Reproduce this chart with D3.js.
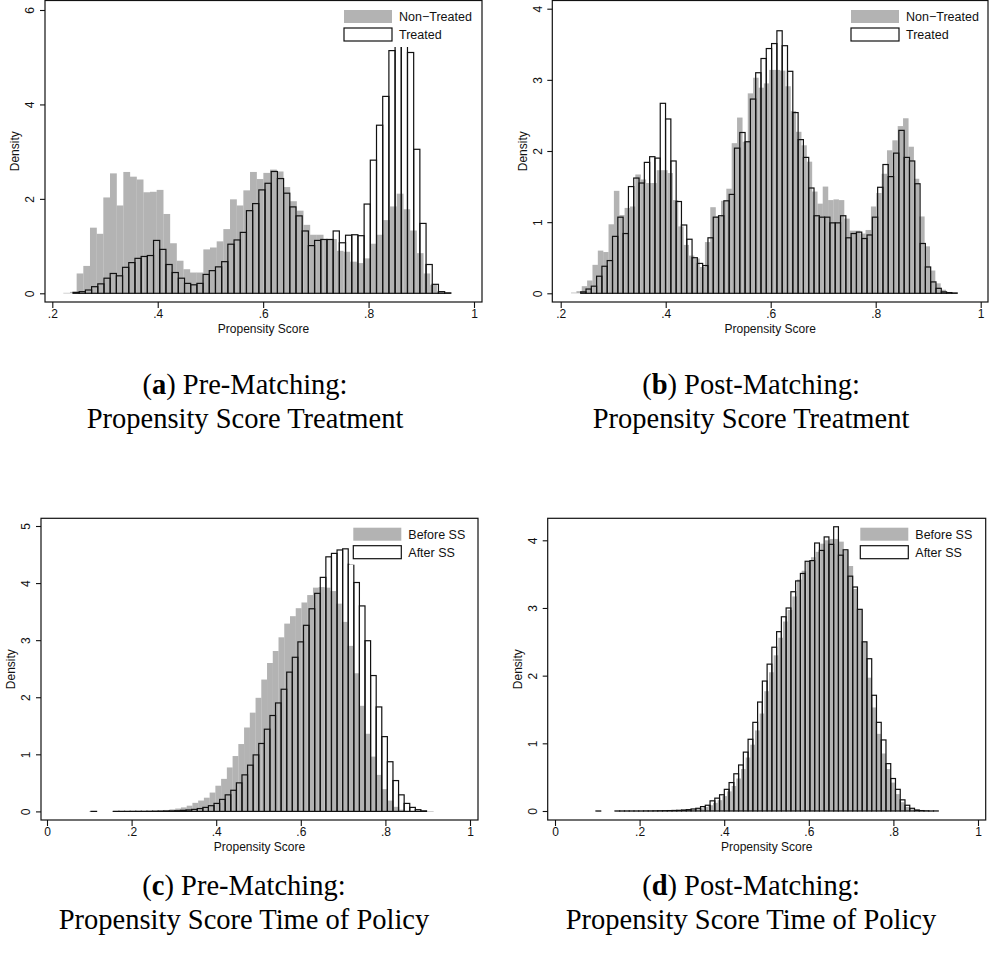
<!DOCTYPE html>
<html>
<head>
<meta charset="utf-8">
<script src="https://cdn.jsdelivr.net/npm/d3@7"></script>
<style>
  html, body { margin: 0; padding: 0; background: #fff; }
  svg { display: block; }
</style>
</head>
<body>
<svg id="fig" width="989" height="958"></svg>
<script>
// ---------------- data ----------------
const xTicksTop = [0.2, 0.4, 0.6, 0.8, 1];
const xTickLabelsTop = [".2", ".4", ".6", ".8", "1"];
const xTicksBottom = [0, 0.2, 0.4, 0.6, 0.8, 1];
const xTickLabelsBottom = ["0", ".2", ".4", ".6", ".8", "1"];
const yTicksA = [0, 2, 4, 6];
const yTicksB = [0, 1, 2, 3, 4];
const yTicksC = [0, 1, 2, 3, 4, 5];
const yTicksD = [0, 1, 2, 3, 4];
const legendTreatment = ["Non\u2212Treated", "Treated"];
const legendPolicy = ["Before SS", "After SS"];
const xTitle = "Propensity Score";
const yTitle = "Density";

// histogram bins: [first bin edge, bin width] in propensity-score units
const binsNonTreatedPre = [0.2209, 0.01265];
const binsTreatedPre = [0.2393, 0.01175];
const binsNonTreatedPost = [0.2197, 0.0102];
const binsTreatedPost = [0.2381, 0.0101];
const binsBeforePre = [0.0995, 0.01357];
const binsAfterPre = [0.104, 0.01322];
const binsBeforePost = [0.0978, 0.01103];
const binsAfterPost = [0.0968, 0.01124];

// densities per bin (empty bins are 0 and leave no mark)
const nonTreatedPre = [0.01, 0.03, 0.42, 0.58, 1.39, 1.26, 2.03, 2.54, 1.86, 2.57,
  2.47, 2.41, 2.14, 2.15, 2.19, 1.68, 1.06, 0.69, 0.51, 0.44,
  0.44, 0.93, 0.97, 1.1, 1.36, 1.99, 1.86, 2.18, 2.57, 2.42,
  2.55, 2.62, 2.58, 2.25, 1.95, 1.75, 1.45, 1.24, 1.24, 1.15,
  1.15, 0.9, 0.88, 0.67, 0.64, 0.74, 1.05, 1.24, 1.55, 1.84,
  2.11, 1.78, 1.33, 0.85, 0.42, 0.18, 0.035, 0.01];
const treatedPre = [0.02, 0.035, 0.07, 0.14, 0.2, 0.32, 0.42, 0.37, 0.55, 0.65,
  0.74, 0.78, 0.8, 1.12, 0.93, 0.61, 0.44, 0.32, 0.21, 0.18,
  0.21, 0.4, 0.48, 0.56, 0.67, 1.04, 1.13, 1.29, 1.75, 1.9,
  2.19, 2.33, 2.58, 2.43, 2.12, 1.83, 1.64, 1.32, 1.01, 1.12,
  1.14, 1.14, 1.32, 1.07, 1.23, 1.24, 1.22, 1.89, 2.82, 3.56,
  4.17, 5.14, 5.75, 5.6, 5.1, 3.05, 1.48, 0.61, 0.19, 0.035,
  0.01];
const nonTreatedPost = [0.01, 0.03, 0.1, 0.18, 0.4, 0.6, 0.58, 0.97, 1.44, 1.1,
  1.2, 1.22, 1.67, 1.6, 1.55, 1.55, 1.73, 1.73, 1.69, 1.31,
  0.94, 0.68, 0.53, 0.49, 0.37, 0.72, 1.21, 1.08, 1.3, 1.47,
  2.11, 2.47, 2.13, 2.81, 3.03, 2.89, 2.95, 3.14, 3.14, 3.13,
  2.91, 2.56, 2.27, 2.08, 1.85, 1.43, 1.26, 1.5, 1.31, 1.32,
  1.31, 1.05, 0.88, 0.88, 0.84, 0.89, 1.22, 1.41, 1.68, 2.01,
  2.15, 2.35, 2.46, 2.06, 1.61, 1.08, 0.66, 0.32, 0.14, 0.05,
  0.015, 0.005];
const treatedPost = [0.02, 0.06, 0.1, 0.24, 0.38, 0.46, 0.8, 1.07, 0.84, 1.5,
  1.62, 1.55, 1.84, 1.92, 1.9, 2.67, 2.45, 1.86, 1.29, 0.96,
  0.76, 0.5, 0.42, 0.39, 0.78, 1.07, 1.09, 1.3, 1.39, 2.04,
  2.26, 2.13, 2.73, 3.1, 3.3, 3.44, 3.51, 3.69, 3.48, 3.12,
  2.54, 2.16, 1.91, 1.48, 1.09, 1.07, 1.07, 0.99, 0.99, 1.09,
  0.78, 0.84, 0.86, 0.77, 0.82, 1.07, 1.49, 1.81, 1.64, 1.97,
  2.29, 1.91, 1.86, 1.54, 0.7, 0.37, 0.16, 0.07, 0.02, 0.01,
  0.005];
const beforePre = [0.0005, 0, 0, 0, 0.001, 0.002, 0.002, 0.003, 0.004, 0.006,
  0.008, 0.012, 0.018, 0.025, 0.035, 0.05, 0.07, 0.1, 0.15, 0.19,
  0.24, 0.33, 0.45, 0.57, 0.77, 0.97, 1.18, 1.47, 1.73, 1.99,
  2.31, 2.6, 2.81, 3.05, 3.29, 3.42, 3.56, 3.66, 3.79, 3.92,
  3.93, 3.92, 3.86, 3.64, 3.32, 2.9, 2.42, 1.85, 1.36, 0.96,
  0.64, 0.39, 0.19, 0.08, 0.03, 0.01, 0.005, 0.002, 0.001, 0.001];
const afterPre = [0.0005, 0, 0, 0, 0.001, 0.001, 0.001, 0.0015, 0.002, 0.002,
  0.003, 0.004, 0.005, 0.007, 0.009, 0.012, 0.018, 0.025, 0.035, 0.05,
  0.07, 0.1, 0.14, 0.21, 0.29, 0.37, 0.5, 0.64, 0.81, 0.99,
  1.19, 1.44, 1.68, 1.9, 2.14, 2.44, 2.7, 2.97, 3.26, 3.55,
  3.82, 4.1, 4.46, 4.52, 4.58, 4.6, 4.33, 4.01, 3.6, 2.99,
  2.38, 1.83, 1.31, 0.87, 0.54, 0.29, 0.14, 0.07, 0.03, 0.01];
const beforePost = [0.0005, 0, 0, 0, 0.001, 0.001, 0.001, 0.001, 0.001, 0.001,
  0.001, 0.001, 0.002, 0.002, 0.003, 0.004, 0.005, 0.006, 0.009, 0.013,
  0.02, 0.028, 0.04, 0.06, 0.085, 0.12, 0.16, 0.22, 0.29, 0.37,
  0.48, 0.62, 0.79, 0.98, 1.19, 1.44, 1.77, 2.05, 2.3, 2.56,
  2.8, 2.97, 3.17, 3.42, 3.55, 3.68, 3.75, 3.83, 3.95, 4.0,
  4.02, 4.02, 3.98, 3.85, 3.62, 3.28, 2.97, 2.5, 1.97, 1.53,
  1.14, 0.85, 0.62, 0.42, 0.25, 0.13, 0.06, 0.025, 0.01, 0.004,
  0.002, 0.001];
const afterPost = [0.0005, 0, 0, 0, 0.0008, 0.0008, 0.001, 0.001, 0.001, 0.001,
  0.002, 0.002, 0.003, 0.004, 0.005, 0.006, 0.008, 0.01, 0.015, 0.02,
  0.03, 0.04, 0.065, 0.085, 0.15, 0.19, 0.24, 0.32, 0.42, 0.55,
  0.68, 0.87, 1.06, 1.31, 1.61, 1.92, 2.17, 2.42, 2.65, 2.87,
  3.0, 3.24, 3.4, 3.51, 3.69, 3.7, 3.96, 3.85, 4.05, 3.94,
  4.2, 3.78, 3.86, 3.47, 3.31, 2.98, 2.5, 2.25, 1.71, 1.31,
  1.05, 0.7, 0.48, 0.32, 0.165, 0.085, 0.04, 0.015, 0.006, 0.003,
  0.001, 0.001];

// sub-figure captions: [letter, first line, second line]
const captionA = ["a", " Pre-Matching:", "Propensity Score Treatment"];
const captionB = ["b", " Post-Matching:", "Propensity Score Treatment"];
const captionC = ["c", " Pre-Matching:", "Propensity Score Time of Policy"];
const captionD = ["d", " Post-Matching:", "Propensity Score Time of Policy"];

// ---------------- layout ----------------
const GRAY = "#b3b3b3";
const INK = "#111";
const SANS = "'Liberation Sans', Arial, Helvetica, sans-serif";
const SERIF = "'Liberation Serif', 'Times New Roman', Times, serif";

const panels = [
  { frame: { l: 45, r: 482, t: 0.5, b: 302 }, xDomain: [0.2, 1], xRange: [52.3, 474],
    yDomain: [0, 6], yRange: [293.3, 10], xTicks: xTicksTop, xLabels: xTickLabelsTop, yTicks: yTicksA,
    legend: legendTreatment, legendX: 344, legendY: 10,
    filled: nonTreatedPre, filledBins: binsNonTreatedPre, outline: treatedPre, outlineBins: binsTreatedPre,
    caption: captionA, capX: 245, capY: 394 },
  { frame: { l: 552.3, r: 988, t: 0.5, b: 302 }, xDomain: [0.2, 1], xRange: [560.7, 980.7],
    yDomain: [0, 4], yRange: [293.3, 8.7], xTicks: xTicksTop, xLabels: xTickLabelsTop, yTicks: yTicksB,
    legend: legendTreatment, legendX: 851, legendY: 10,
    filled: nonTreatedPost, filledBins: binsNonTreatedPost, outline: treatedPost, outlineBins: binsTreatedPost,
    caption: captionB, capX: 751, capY: 394 },
  { frame: { l: 41, r: 478, t: 518.3, b: 820 }, xDomain: [0, 1], xRange: [47, 470],
    yDomain: [0, 5], yRange: [811.4, 526], xTicks: xTicksBottom, xLabels: xTickLabelsBottom, yTicks: yTicksC,
    legend: legendPolicy, legendX: 353.3, legendY: 527.7,
    filled: beforePre, filledBins: binsBeforePre, outline: afterPre, outlineBins: binsAfterPre,
    caption: captionC, capX: 244, capY: 895 },
  { frame: { l: 547.7, r: 985.7, t: 518.3, b: 820 }, xDomain: [0, 1], xRange: [555, 978],
    yDomain: [0, 4], yRange: [811, 540.3], xTicks: xTicksBottom, xLabels: xTickLabelsBottom, yTicks: yTicksD,
    legend: legendPolicy, legendX: 860.3, legendY: 527.7,
    filled: beforePost, filledBins: binsBeforePost, outline: afterPost, outlineBins: binsAfterPost,
    caption: captionD, capX: 751, capY: 895 }
];

const svg = d3.select("#fig");

function toBins(values, bins) {
  const [start, width] = bins;
  return values
    .map((v, i) => ({ x0: start + i * width, x1: start + (i + 1) * width, v }))
    .filter(d => d.v > 0);
}

panels.forEach((p, idx) => {
  const f = p.frame;
  const x = d3.scaleLinear().domain(p.xDomain).range(p.xRange);
  const y = d3.scaleLinear().domain(p.yDomain).range(p.yRange);
  const g = svg.append("g");

  const clipId = "clip" + idx;
  g.append("clipPath").attr("id", clipId)
    .append("rect").attr("x", f.l).attr("y", f.t).attr("width", f.r - f.l).attr("height", f.b - f.t);
  const plot = g.append("g").attr("clip-path", `url(#${clipId})`);

  // filled histogram (comparison group)
  plot.append("g").selectAll("rect")
    .data(toBins(p.filled, p.filledBins))
    .join("rect")
    .attr("x", d => x(d.x0))
    .attr("width", d => x(d.x1) - x(d.x0) + 0.15)
    .attr("y", d => y(d.v))
    .attr("height", d => Math.max(0.6, y(0) - y(d.v)))
    .attr("fill", GRAY);

  // outlined histogram (second group) drawn on top
  plot.append("g").selectAll("rect")
    .data(toBins(p.outline, p.outlineBins))
    .join("rect")
    .attr("x", d => x(d.x0))
    .attr("width", d => x(d.x1) - x(d.x0))
    .attr("y", d => y(d.v))
    .attr("height", d => y(0) - y(d.v))
    .attr("fill", "none")
    .attr("stroke", INK)
    .attr("stroke-width", 1.2);

  // legend with an opaque background
  const lx = p.legendX, ly = p.legendY;
  g.append("rect").attr("x", lx - 4).attr("y", f.t + 1).attr("width", f.r - 1.5 - (lx - 4))
    .attr("height", ly + 37 - (f.t + 1)).attr("fill", "#fff");
  g.append("rect").attr("x", lx).attr("y", ly).attr("width", 48).attr("height", 13).attr("fill", GRAY);
  g.append("rect").attr("x", lx).attr("y", ly + 18).attr("width", 48).attr("height", 13)
    .attr("fill", "#fff").attr("stroke", INK).attr("stroke-width", 1.2);
  g.append("text").attr("x", lx + 55).attr("y", ly + 11).text(p.legend[0])
    .attr("font-family", SANS).attr("font-size", 12.5).attr("fill", INK);
  g.append("text").attr("x", lx + 55).attr("y", ly + 29).text(p.legend[1])
    .attr("font-family", SANS).attr("font-size", 12.5).attr("fill", INK);

  // plot region border
  g.append("rect").attr("x", f.l).attr("y", f.t).attr("width", f.r - f.l).attr("height", f.b - f.t)
    .attr("fill", "none").attr("stroke", INK).attr("stroke-width", 1.2);

  // x axis
  const xAxis = d3.axisBottom(x).tickValues(p.xTicks)
    .tickFormat((d, i) => p.xLabels[i]).tickSize(6).tickPadding(1);
  const gx = g.append("g").attr("transform", `translate(0,${f.b})`).call(xAxis);
  gx.select(".domain").remove();
  gx.selectAll("line").attr("stroke", INK).attr("stroke-width", 1.1);
  gx.selectAll("text").attr("font-family", SANS).attr("font-size", 12).attr("fill", INK);

  // y axis with vertical tick labels
  const yAxis = d3.axisLeft(y).tickValues(p.yTicks).tickFormat(d3.format("d")).tickSize(5);
  const gy = g.append("g").attr("transform", `translate(${f.l},0)`).call(yAxis);
  gy.select(".domain").remove();
  gy.selectAll("line").attr("stroke", INK).attr("stroke-width", 1.1);
  gy.selectAll("text")
    .attr("x", null).attr("dy", "0.36em")
    .attr("transform", "translate(-15,0) rotate(-90)")
    .attr("text-anchor", "middle")
    .attr("font-family", SANS).attr("font-size", 12).attr("fill", INK);

  // axis titles
  g.append("text").attr("x", (f.l + f.r) / 2).attr("y", f.b + 30.5)
    .attr("text-anchor", "middle").attr("font-family", SANS).attr("font-size", 12).attr("fill", INK)
    .text(xTitle);
  g.append("text")
    .attr("transform", `translate(${f.l - 30},${(f.t + f.b) / 2}) rotate(-90)`)
    .attr("dy", "0.36em")
    .attr("text-anchor", "middle").attr("font-family", SANS).attr("font-size", 12).attr("fill", INK)
    .text(yTitle);

  // caption
  const cap = g.append("g").attr("font-family", SERIF).attr("font-size", 28.5).attr("fill", "#000");
  const t1 = cap.append("text").attr("x", p.capX).attr("y", p.capY).attr("text-anchor", "middle");
  t1.append("tspan").text("(");
  t1.append("tspan").attr("font-weight", "bold").text(p.caption[0]);
  t1.append("tspan").text(")" + p.caption[1]);
  cap.append("text").attr("x", p.capX).attr("y", p.capY + 34).attr("text-anchor", "middle")
    .text(p.caption[2]);
});
</script>
</body>
</html>
